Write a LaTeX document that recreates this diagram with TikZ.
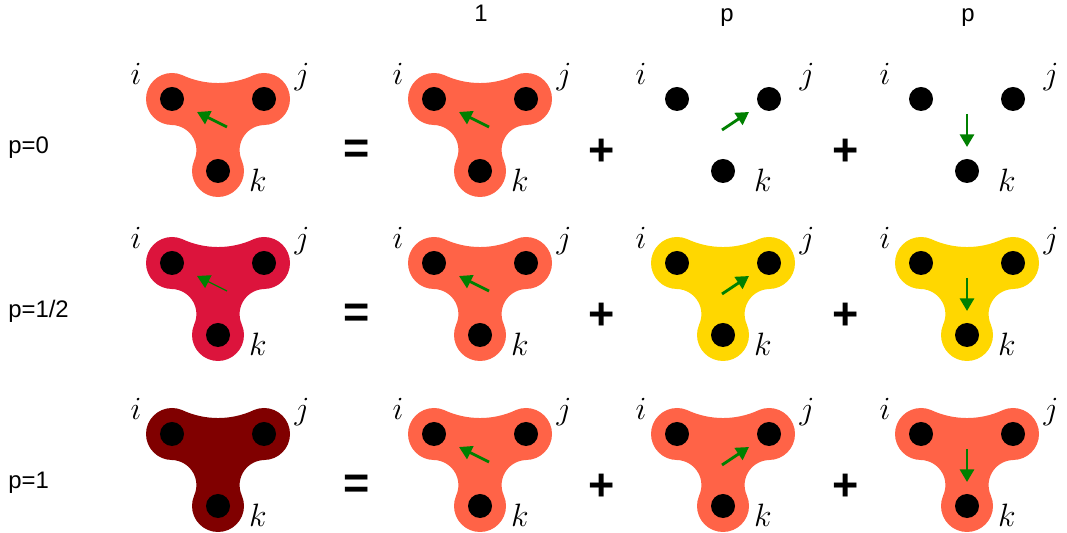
\RequirePackage{fix-cm}
\documentclass[tikz,border=0pt]{standalone}
\usepackage{fontspec}
\setsansfont{Liberation Sans}
\usetikzlibrary{arrows.meta,positioning}
\definecolor{tomato}{HTML}{FF6347}
\definecolor{crim}{HTML}{DC143C}
\definecolor{maroon}{HTML}{800000}
\definecolor{gold}{HTML}{FFD700}
\definecolor{flow}{HTML}{008000}
\tikzset{dot/.style={circle,fill=black,inner sep=0pt,minimum size=.6cm},
  lbl/.style={font=\fontsize{23}{23}\selectfont,inner sep=0pt},
  txt/.style={font=\sffamily\fontsize{17}{17}\selectfont,inner sep=0pt},
  sgn/.style={font=\sffamily\bfseries\fontsize{32}{32}\selectfont,inner sep=0pt},
  arr/.style={draw=flow,line width=2pt,-{Triangle[length=9pt,width=10pt]}}}
% one three-site cluster: name, origin (site i), fill, arrow tail, arrow head
\newcommand\spinner[5]{%
\begin{scope}[shift={#2}]
 \path[fill=#3] (0,0) circle[radius=26] (92,0) circle[radius=26] (46,-72) circle[radius=26]
   (-0.4,-26) arc[start angle=89.3,end angle=-24.1,radius=25.1] -- (69.8,-61.4)
   arc[start angle=204.1,end angle=90.7,radius=25.1] -- (81.2,23.6)
   arc[start angle=294.5,end angle=245.5,radius=84.8] -- cycle;
 \node[dot] (#1i) at (0,0) {};
 \node[dot] (#1j) at (92,0) {};
 \node[dot] (#1k) at (46,-72) {};
 \node[lbl] (#1li) at (-36,25) {$i$};
 \node[lbl] (#1lj) at (130,22) {$j$};
 \node[lbl] (#1lk) at (86,-81) {$k$};
 \coordinate (#1t) at #4;
 \coordinate (#1h) at #5;
\end{scope}}

\begin{document}
\begin{tikzpicture}[x=0.025cm,y=0.025cm]
\useasboundingbox (0,0) rectangle (1067,533);
% column weights
\node[txt,anchor=base] (h1) at (481,511) {1};
\node[txt,anchor=base] (h2) at (727,511) {p};
\node[txt,anchor=base] (h3) at (968,511) {p};
\foreach \r/\y/\ca/\cb/\lab in {0/434/tomato/none/{p=0},1/270/crim/gold/{p=1/2},2/99/maroon/tomato/{p=1}}{
 \node[txt,anchor=base west] (row\r) at (8,{\y-55}) {\lab};
 \spinner{b\r0}{(172,\y)}{\ca}{(55,-28)}{(25,-13)}
 \spinner{b\r1}{(434,\y)}{tomato}{(55,-28)}{(25,-13)}
 \spinner{b\r2}{(677,\y)}{\cb}{(45,-31)}{(72,-13)}
 \spinner{b\r3}{(921,\y)}{\cb}{(46,-15)}{(46,-48)}
 \node[sgn] (eq\r) at (357,{\y-53}) {=};
 \node[sgn] (pa\r) at (602,{\y-53}) {+};
 \node[sgn] (pb\r) at (846,{\y-53}) {+};
 \draw[arr] (b\r1t) -- (b\r1h);
 \draw[arr] (b\r2t) -- (b\r2h);
 \draw[arr] (b\r3t) -- (b\r3h);
}
\draw[arr] (b00t) -- (b00h);
\draw[arr,line width=0.9pt] (b10t) -- (b10h);
\end{tikzpicture}
\end{document}
